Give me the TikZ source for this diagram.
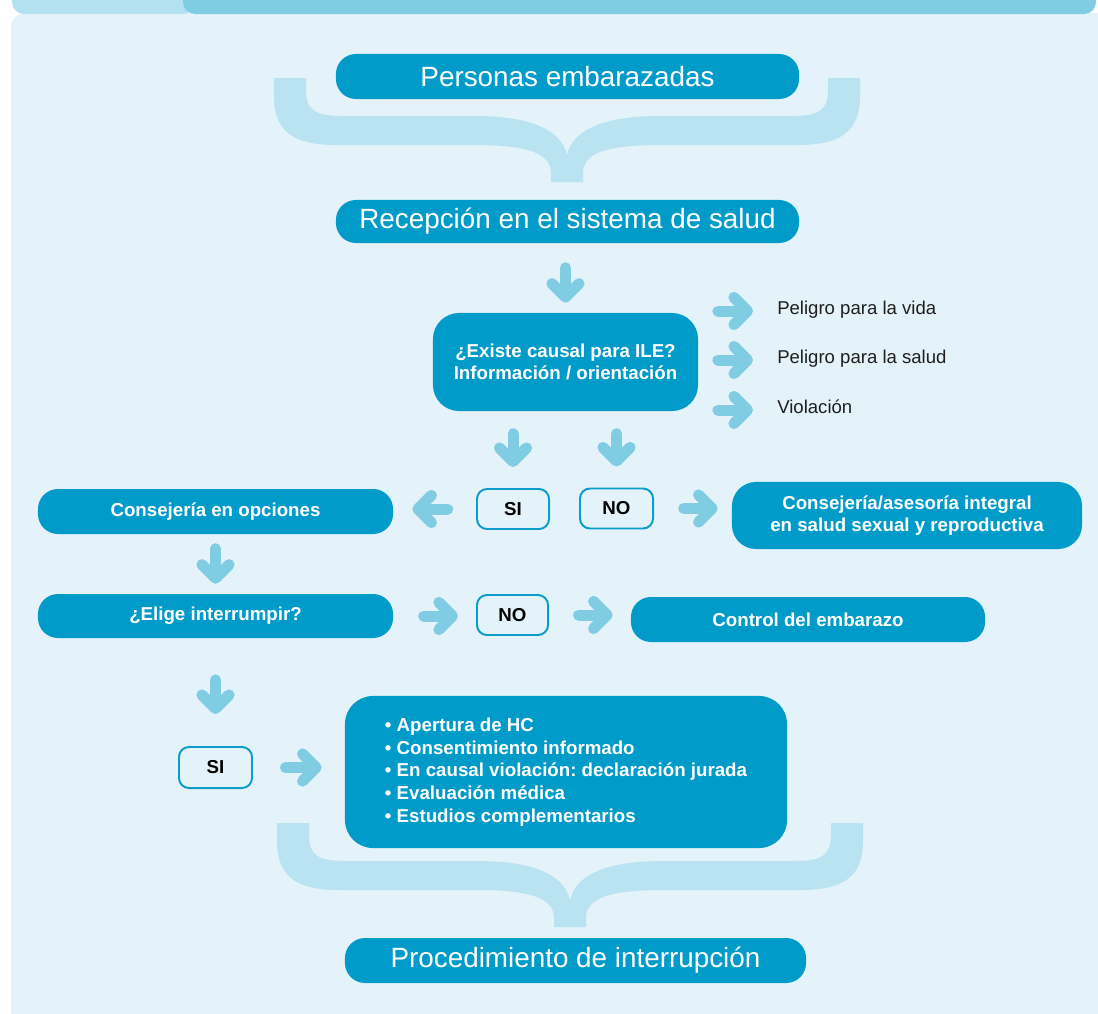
\documentclass[tikz,border=0pt]{standalone}
\usepackage{fontspec}
\setmainfont{Liberation Sans}
\usepackage{tikz}
\usetikzlibrary{arrows.meta,positioning}
\frenchspacing

\definecolor{fondo}{RGB}{228,243,249}
\definecolor{tabclaro}{RGB}{179,225,239}
\definecolor{taboscuro}{RGB}{128,204,227}
\definecolor{azul}{RGB}{0,155,200}
\definecolor{borde}{RGB}{13,157,204}
\definecolor{llave}{RGB}{185,227,240}
\definecolor{flechas}{RGB}{128,204,227}
\definecolor{texto}{RGB}{30,30,30}

% llave: centro arriba en #1
\newcommand{\llave}[1]{%
  \fill[llave, shift={#1}]
    (-293,0) -- (-293,18) .. controls (-293,55) and (-272,67) .. (-230,67)
    -- (-93,67) .. controls (-40,67) and (-16,75) .. (-16,95) -- (-16,104)
    -- (16,104) -- (16,95) .. controls (16,75) and (40,67) .. (93,67)
    -- (230,67) .. controls (272,67) and (293,55) .. (293,18) -- (293,0)
    -- (261,0) -- (261,12) .. controls (261,32) and (252,38) .. (225,38)
    -- (93,38) .. controls (30,38) and (5,55) .. (0,77)
    .. controls (-5,55) and (-30,38) .. (-93,38)
    -- (-225,38) .. controls (-252,38) and (-261,32) .. (-261,12)
    -- (-261,0) -- cycle;}

\begin{document}
\begin{tikzpicture}[x=0.025cm, y=-0.025cm,
  caja/.style={fill=azul, text=white, rounded corners=0.5cm, inner sep=0pt,
    align=center, font=\bfseries\fontsize{13.3}{16}\selectfont},
  grande/.style={caja, font=\fontsize{19.8}{24}\selectfont},
  opcion/.style={draw=borde, line width=1.4pt, fill=fondo, rounded corners=0.25cm,
    inner sep=0pt, font=\bfseries\fontsize{13.3}{16}\selectfont},
  riesgo/.style={anchor=west, inner sep=0pt, text=texto, text height=0.72em,
    text depth=0.2em, font=\fontsize{13.2}{16}\selectfont},
  flecha/.style={draw=flechas, line width=0.275cm, line cap=round,
    -{Straight Barb[round, length=0.34cm, width=0.68cm]}}]

  \useasboundingbox (0,0) rectangle (1098,1013);
  \clip (0,0) rectangle (1098,1013);

  % fondo y pestañas
  \fill[fondo, rounded corners=0.35cm] (11,13) rectangle (1140,1050);
  \fill[tabclaro, rounded corners=0.3cm] (12,-20) rectangle (195,14);
  \fill[taboscuro, rounded corners=0.3cm] (183,-20) rectangle (1096,14);

  % llaves
  \llave{(567,78)}
  \llave{(570,823)}

  \node[grande, minimum width=11.575cm, minimum height=1.125cm] (personas) at (567.5,76.5) {Personas embarazadas};
  \node[grande, minimum width=11.575cm, minimum height=1.075cm] (recepcion) at (567.5,221.5) {Recepción en el sistema de salud};

  \node[caja, rounded corners=0.65cm, minimum width=6.625cm, minimum height=2.45cm] (causal) at (565.5,362)
    {¿Existe causal para ILE?\\Información / orientación};
  \node[riesgo] (vida) at (777,311) {Peligro para la vida};
  \node[riesgo] (salud) at (777,360) {Peligro para la salud};
  \node[riesgo] (violacion) at (777,410) {Violación};

  \node[opcion, minimum width=1.8cm, minimum height=1cm] (si) at (513,509) {SI};
  \node[opcion, minimum width=1.825cm, minimum height=1cm] (no) at (616.5,508.5) {NO};
  \node[caja, minimum width=8.875cm, minimum height=1.125cm] (opciones) at (215.5,511.5) {Consejería en opciones};
  \node[caja, rounded corners=0.6cm, minimum width=8.75cm, minimum height=1.675cm] (integral) at (907,515.5)
    {Consejería/asesoría integral\\en salud sexual y reproductiva};

  \node[caja, minimum width=8.875cm, minimum height=1.1cm] (elige) at (215.5,616) {¿Elige interrumpir?};
  \node[opcion, minimum width=1.775cm, minimum height=1cm] (noelige) at (512.5,615) {NO};
  \node[caja, minimum width=8.85cm, minimum height=1.125cm] (control) at (808,619.5) {Control del embarazo};

  \node[opcion, minimum width=1.825cm, minimum height=1.025cm] (sielige) at (215.5,767.5) {SI};
  \node[caja, align=left, rounded corners=0.7cm, minimum width=11.05cm,
    minimum height=3.8cm, font=\bfseries\fontsize{13.3}{16.2}\selectfont] (pasos) at (566,772)
    {• Apertura de HC\\• Consentimiento informado\\• En causal violación: declaración jurada\\%
     • Evaluación médica\\• Estudios complementarios};

  \node[grande, minimum width=11.525cm, minimum height=1.125cm] (procedimiento) at (575.5,960.5) {Procedimiento de interrupción};

  % flechas
  \draw[flecha, shorten <=0.61cm, shorten >=0.25cm] (causal.north |- recepcion.south) -- (causal.north);
  \draw[flecha, shorten <=0.56cm, shorten >=0.525cm] (si.north |- causal.south) -- (si.north);
  \draw[flecha, shorten <=0.56cm, shorten >=0.525cm] (no.north |- causal.south) -- (no.north);
  \foreach \r in {vida,salud,violacion}
    \draw[flecha, shorten <=0.49cm, shorten >=0.6cm] (causal.east |- \r) -- (\r.west);
  \draw[flecha, shorten <=0.71cm, shorten >=0.475cm] (si.west) -- (si.west -| opciones.east);
  \draw[flecha, shorten <=0.74cm, shorten >=0.35cm] (no.east) -- (no.east -| integral.west);
  \draw[flecha, shorten <=0.36cm, shorten >=0.25cm] (opciones.south) -- (elige.north);
  \draw[flecha, shorten <=0.76cm, shorten >=0.45cm] (elige.east) -- (elige.east -| noelige.west);
  \draw[flecha, shorten <=0.74cm, shorten >=0.45cm] (noelige.east) -- (noelige.east -| control.west);
  \draw[flecha, shorten <=1.04cm, shorten >=0.8cm] (elige.south) -- (sielige.north);
  \draw[flecha, shorten <=0.81cm, shorten >=0.575cm] (sielige.east) -- (sielige.east -| pasos.west);

\end{tikzpicture}
\end{document}
